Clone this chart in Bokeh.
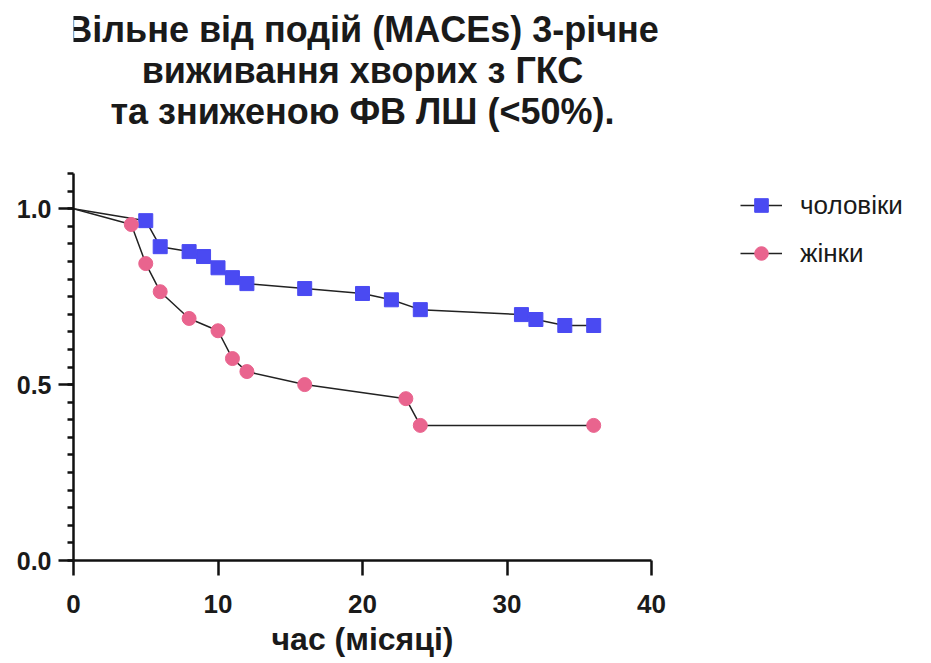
from bokeh.plotting import figure
from bokeh.models import (Range1d, Label, Legend, LegendItem, FixedTicker,
                          CustomJSTickFormatter, LinearAxis)
from bokeh.embed import file_html
from bokeh.resources import INLINE

# data
men_t = [0, 5, 6, 8, 9, 10, 11, 12, 16, 20, 22, 24, 31, 32, 34, 36]
men_s = [1.0, 0.966, 0.892, 0.878, 0.864, 0.832, 0.804, 0.787, 0.773, 0.759,
         0.741, 0.713, 0.699, 0.685, 0.668, 0.668]
women_t = [0, 4, 5, 6, 8, 10, 11, 12, 16, 23, 24, 36]
women_s = [1.0, 0.955, 0.844, 0.764, 0.688, 0.653, 0.574, 0.537, 0.500, 0.460,
           0.384, 0.384]
x_ticks = [0, 10, 20, 30, 40]
y_ticks = [0.0, 0.5, 1.0]
y_max = 1.1
title_lines = ["Вільне від подій (MACEs) 3-річне",
               "виживання хворих з ГКС",
               "та зниженою ФВ ЛШ (<50%)."]
x_label = "час (місяці)"
names = ["чоловіки", "жінки"]

FONT = "Liberation Sans"
BLUE = "#4A4AF2"
PINK = "#E9648E"

# layout geometry (pixels)
W, H = 931, 663
LEFT, BOTTOM = 73, 103          # space for axes
AX_RIGHT, AX_TOP = 651, 173     # where the drawn axes end
frame_w = W - LEFT
frame_h = H - BOTTOM
x_end = x_ticks[-1] * frame_w / (AX_RIGHT - LEFT)
y_end = y_max * frame_h / (H - BOTTOM - AX_TOP)
x_mid = (x_ticks[0] + x_ticks[-1]) / 2

p = figure(width=W, height=H, output_backend="svg", toolbar_location=None,
           x_range=Range1d(0, x_end), y_range=Range1d(0, y_end),
           min_border_left=LEFT, min_border_right=0, min_border_top=0,
           min_border_bottom=BOTTOM)
p.title = None
p.outline_line_color = None
p.grid.visible = False
p.background_fill_color = "white"
p.border_fill_color = "white"

for ax in (p.xaxis[0], p.yaxis[0]):
    ax.axis_line_width = 2.5
    ax.axis_line_color = "#111111"
    ax.major_tick_line_width = 2.5
    ax.major_tick_line_color = "#111111"
    ax.minor_tick_line_width = 2.5
    ax.minor_tick_line_color = "#111111"
    ax.major_tick_out = 15
    ax.major_tick_in = 0
    ax.major_label_text_font = FONT
    ax.major_label_text_font_style = "bold"
    ax.major_label_text_color = "#1a1a1a"

xa = p.xaxis[0]
xa.bounds = (x_ticks[0], x_ticks[-1])
xa.ticker = FixedTicker(ticks=x_ticks)
xa.minor_tick_out = 0
xa.major_label_text_font_size = "26px"
xa.major_label_standoff = 19

# axis title, centred under the drawn x axis (a one-tick axis)
xt = LinearAxis(ticker=FixedTicker(ticks=[x_mid]),
                major_label_overrides={x_mid: x_label},
                axis_line_color=None, major_tick_line_color=None,
                minor_tick_line_color=None, major_tick_out=0,
                major_tick_in=0, minor_tick_out=0, minor_tick_in=0,
                major_label_standoff=5,
                major_label_text_font=FONT, major_label_text_font_style="bold",
                major_label_text_font_size="32px",
                major_label_text_color="#1a1a1a")
p.add_layout(xt, "below")

ya = p.yaxis[0]
ya.bounds = (0, y_max)
ya.ticker = FixedTicker(ticks=y_ticks,
                        minor_ticks=[i * 0.05 for i in range(23)])
ya.minor_tick_out = 6
ya.minor_tick_in = 0
ya.major_label_text_font_size = "25px"
ya.major_label_standoff = 7
ya.formatter = CustomJSTickFormatter(code="return tick.toFixed(1);")

# title lines, centred over the axes
for i, t in enumerate(title_lines):
    p.add_layout(Label(x=x_mid, y=frame_h - (29 + 41 * i), y_units="screen",
                       text=t, text_align="center", text_baseline="middle",
                       text_font=FONT, text_font_size="36px",
                       text_font_style="bold", text_color="#1a1a1a"))

l1 = p.line(men_t, men_s, line_color="#222222", line_width=1.5)
m1 = p.scatter(men_t[1:], men_s[1:], marker="square", size=14,
               fill_color=BLUE, line_color=BLUE)
l2 = p.line(women_t, women_s, line_color="#222222", line_width=1.5)
m2 = p.scatter(women_t[1:], women_s[1:], marker="circle", size=14,
               fill_color=PINK, line_color=PINK)

legend = Legend(items=[LegendItem(label=names[0], renderers=[l1, m1]),
                       LegendItem(label=names[1], renderers=[l2, m2])],
                location=(667, 290), padding=0, margin=0,
                border_line_color=None, background_fill_alpha=0,
                glyph_width=42, glyph_height=34, label_height=34,
                spacing=14, label_standoff=18,
                label_text_font=FONT, label_text_font_size="26px",
                label_text_color="#1a1a1a")
p.add_layout(legend, "center")

open("out.html", "w").write(file_html(p, INLINE))
